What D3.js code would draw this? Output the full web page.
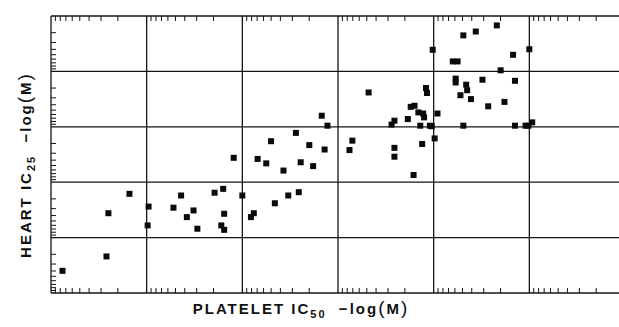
<!DOCTYPE html>
<html>
<head>
    <title>Platelet vs heart potency</title>
    <script src="https://d3js.org/d3.v7.min.js"></script>
    <style>
        body { margin: 0; background: #fff; }
        .frame line { stroke: #151515; stroke-width: 1.3; }
        .tick-mark { stroke: #151515; stroke-width: 1; }
        .pt { fill: #0a0a0a; }
        .title { font-family: "Liberation Sans", Arial, sans-serif; font-weight: bold; font-size: 15px; letter-spacing: 2px; fill: #111; }
    </style>
</head>
<body>
    <svg width="619" height="327"></svg>
    <script>
        // -log(M) values
        const plateletIC50 = [
            3.12, 3.58, 3.60, 3.82, 4.02, 4.01, 4.28, 4.36, 4.42, 4.49,
            4.53, 4.71, 4.80, 4.81, 4.78, 4.81, 5.00, 5.12, 5.09, 5.34,
            5.48, 5.59, 4.91, 5.16, 5.25, 5.43, 5.61, 5.74, 5.30, 5.56,
            5.70, 5.86, 5.83, 5.89, 6.32, 6.15, 6.12, 6.59, 6.59, 6.79,
            6.56, 6.59, 6.73, 6.76, 6.80, 6.84, 6.89, 6.90, 6.92, 6.93,
            7.04, 6.86, 6.96, 6.98, 7.01, 6.88, 6.99, 7.31, 7.44, 7.66,
            8.00, 7.83, 7.20, 7.25, 7.70, 7.23, 7.23, 7.51, 7.85, 7.34,
            7.35, 7.28, 7.39, 7.74, 7.57, 7.31, 7.85, 7.96, 7.99, 8.03
        ];
        const heartIC25 = [
            3.40, 3.66, 4.44, 4.79, 4.56, 4.22, 4.54, 4.76, 4.37, 4.49,
            4.16, 4.81, 4.88, 4.43, 4.22, 4.14, 4.76, 4.44, 4.37, 4.62,
            4.76, 4.82, 5.44, 5.42, 5.34, 5.21, 5.36, 5.29, 5.74, 5.89,
            5.67, 5.59, 6.20, 6.02, 6.62, 5.75, 5.58, 5.62, 5.46, 5.13,
            6.04, 6.11, 6.14, 6.36, 6.38, 6.26, 6.24, 6.17, 6.70, 6.61,
            6.24, 6.02, 6.02, 6.01, 5.79, 5.69, 7.39, 7.65, 7.72, 7.83,
            7.40, 7.30, 7.18, 7.18, 7.02, 6.87, 6.80, 6.85, 6.83, 6.76,
            6.66, 6.57, 6.50, 6.45, 6.37, 6.02, 6.02, 6.02, 6.02, 6.08
        ];
        const xDecades = [3, 9];   // platelet axis, -log(M)
        const yDecades = [3, 8];   // heart axis, -log(M)

        const data = plateletIC50.map((p, i) => ({ p: p, h: heartIC25[i] }));
        const molar = v => Math.pow(10, -v);

        const margin = { top: 16, left: 51 };
        const width = 574;
        const height = 277;

        const svg = d3.select("svg");
        const g = svg.append("g")
            .attr("transform", `translate(${margin.left},${margin.top})`);

        // concentration runs backwards: higher -log(M) to the right / top
        const x = d3.scaleLog()
            .domain([molar(xDecades[0]), molar(xDecades[1])])
            .range([0, width]);
        const y = d3.scaleLog()
            .domain([molar(yDecades[0]), molar(yDecades[1])])
            .range([height, 0]);

        const isDecade = t => Math.abs(Math.log10(t) - Math.round(Math.log10(t))) < 1e-6;

        // grid lines at each decade + frame
        const frame = g.append("g").attr("class", "frame");
        frame.selectAll(".vx")
            .data(x.ticks().filter(isDecade))
            .enter().append("line")
            .attr("x1", d => x(d)).attr("x2", d => x(d))
            .attr("y1", 0).attr("y2", height);
        frame.selectAll(".hy")
            .data(y.ticks().filter(isDecade))
            .enter().append("line")
            .attr("x1", 0).attr("x2", width)
            .attr("y1", d => y(d)).attr("y2", d => y(d));

        // minor log ticks, pointing inward
        const xMinor = x.ticks().filter(t => !isDecade(t));
        const yMinor = y.ticks().filter(t => !isDecade(t));
        const tl = 5;

        g.selectAll(".tt")
            .data(xMinor)
            .enter().append("line")
            .attr("class", "tick-mark")
            .attr("x1", d => x(d)).attr("x2", d => x(d))
            .attr("y1", 0).attr("y2", tl);
        g.selectAll(".tb")
            .data(xMinor)
            .enter().append("line")
            .attr("class", "tick-mark")
            .attr("x1", d => x(d)).attr("x2", d => x(d))
            .attr("y1", height).attr("y2", height - tl);
        g.selectAll(".tlft")
            .data(yMinor)
            .enter().append("line")
            .attr("class", "tick-mark")
            .attr("x1", 0).attr("x2", tl)
            .attr("y1", d => y(d)).attr("y2", d => y(d));

        // points
        const s = 6;
        g.selectAll(".pt")
            .data(data)
            .enter().append("rect")
            .attr("class", "pt")
            .attr("x", d => x(molar(d.p)) - s / 2)
            .attr("y", d => y(molar(d.h)) - s / 2)
            .attr("width", s)
            .attr("height", s);

        // axis titles
        function title(sel, name, sub) {
            sel.append("tspan").text(name + " IC");
            sel.append("tspan").attr("font-size", 11).attr("dy", 4).text(sub);
            sel.append("tspan").attr("dy", -4).text("\u00a0\u00a0\u2212log");
            sel.append("tspan").attr("font-size", 19).attr("font-weight", "normal").text("(");
            sel.append("tspan").text("M");
            sel.append("tspan").attr("font-size", 19).attr("font-weight", "normal").text(")");
        }

        const yt = svg.append("text")
            .attr("class", "title")
            .attr("text-anchor", "middle")
            .attr("transform", "translate(31,165) rotate(-90)");
        title(yt, "HEART", "25");

        const xt = svg.append("text")
            .attr("class", "title")
            .attr("text-anchor", "middle")
            .attr("x", 301)
            .attr("y", 314);
        title(xt, "PLATELET", "50");
    </script>
</body>
</html>
